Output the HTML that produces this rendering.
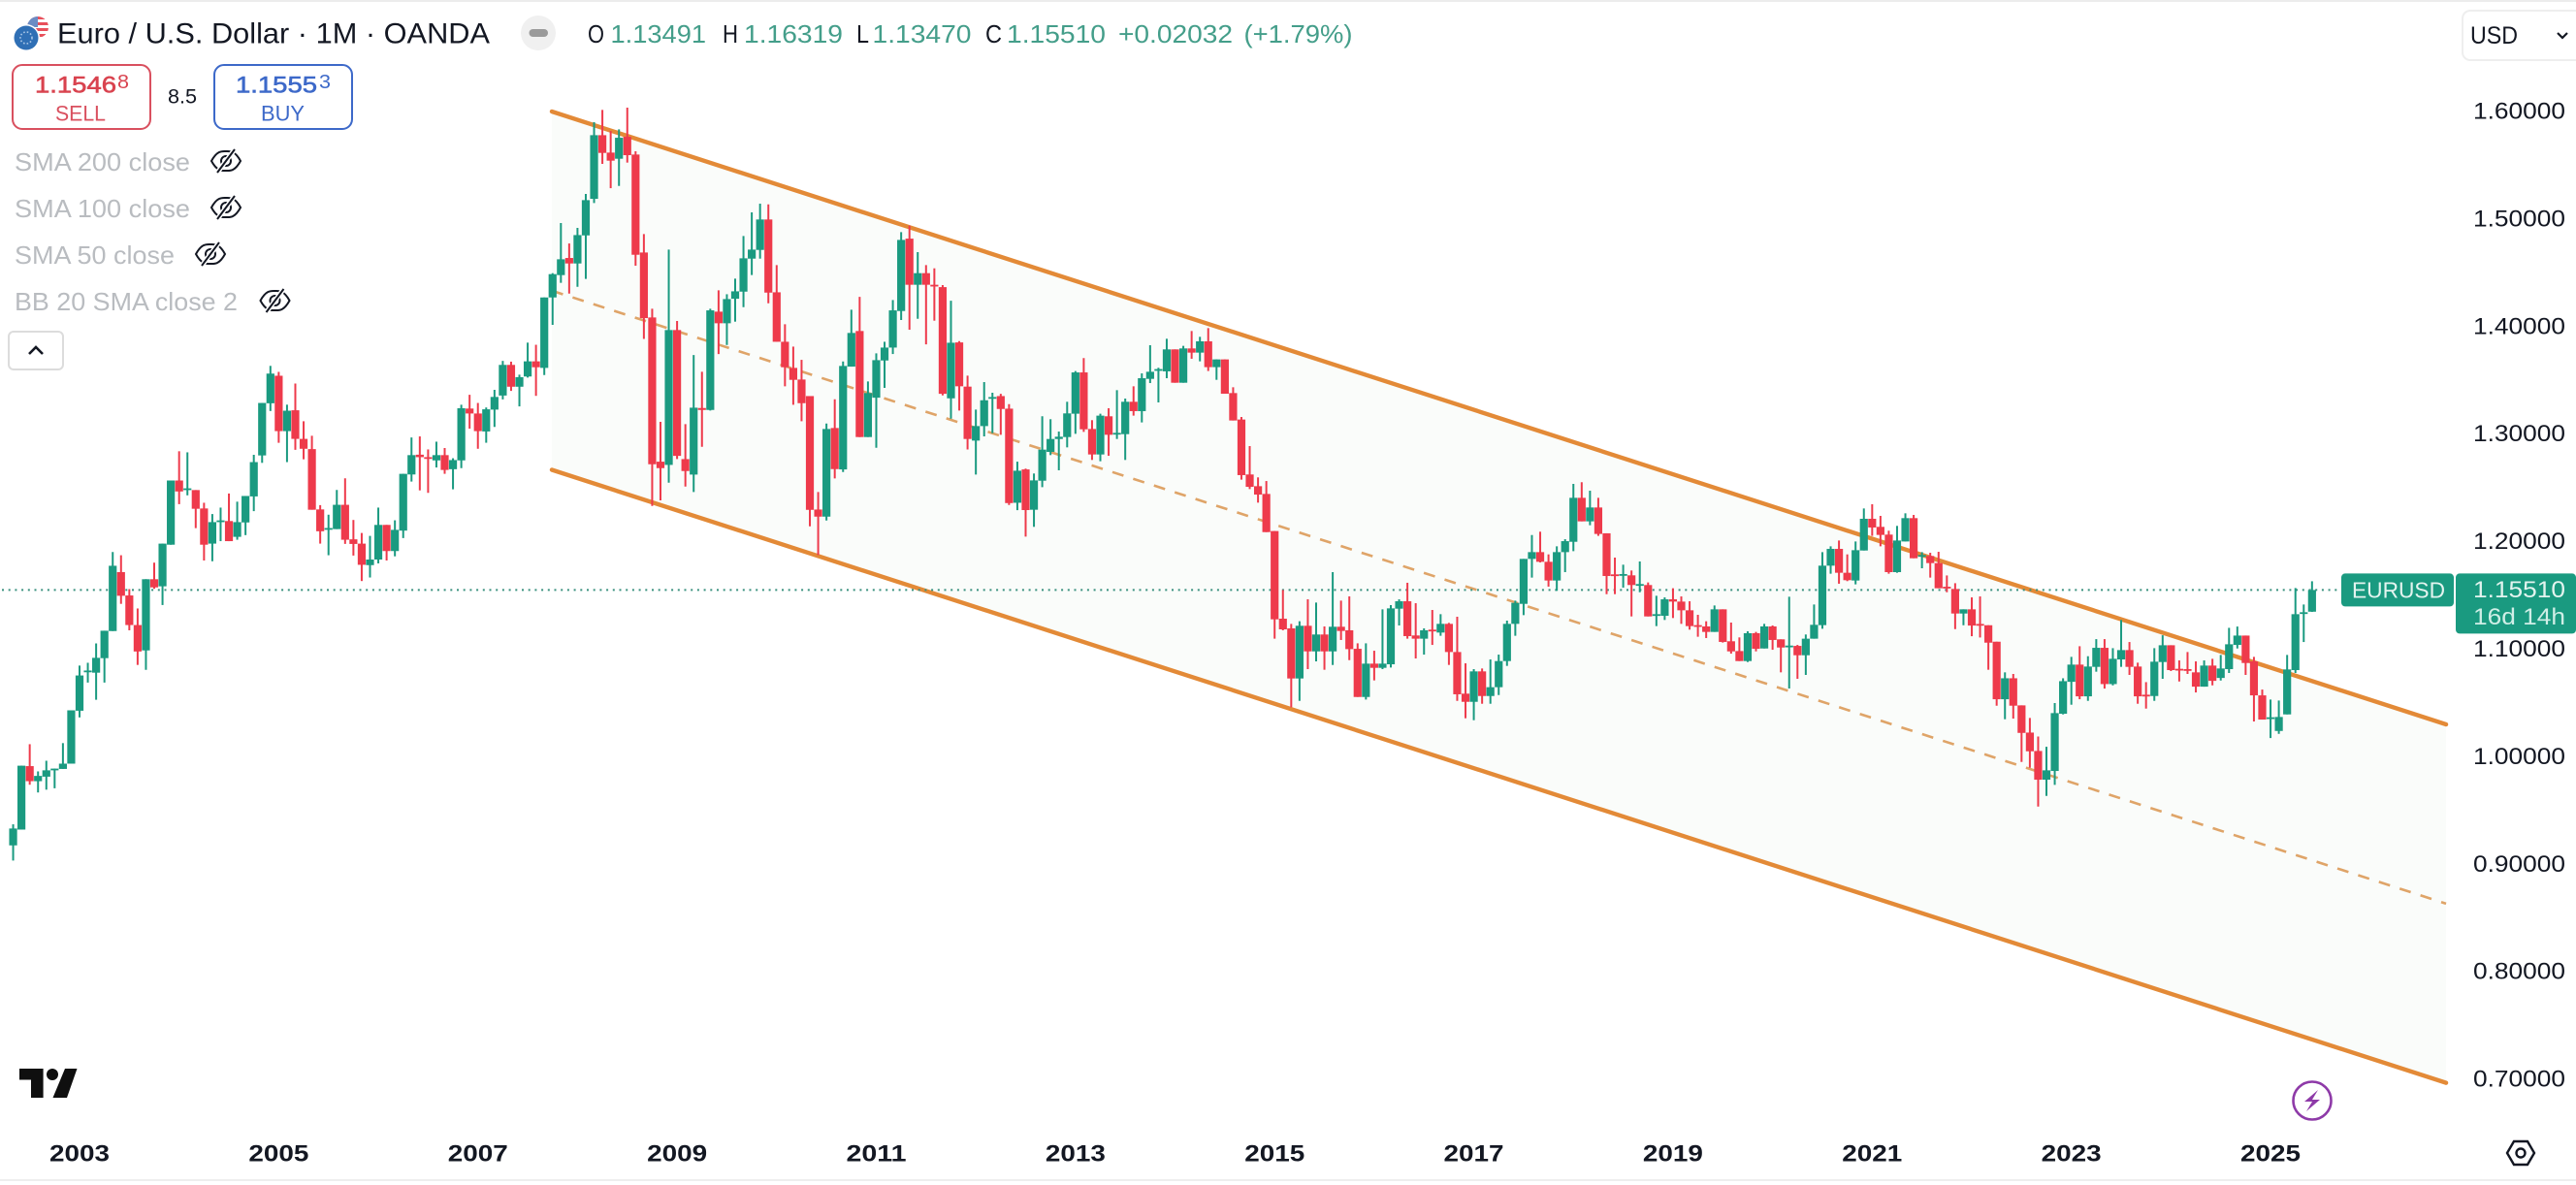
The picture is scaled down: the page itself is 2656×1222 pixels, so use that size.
<!DOCTYPE html>
<html lang="en">
<head>
<meta charset="utf-8">
<title>Euro / U.S. Dollar 1M OANDA chart</title>
<style>
html,body{margin:0;padding:0;background:#fff;width:2656px;height:1222px;overflow:hidden}
svg{display:block;font-family:"Liberation Sans",sans-serif}
text{dominant-baseline:central}
</style>
</head>
<body>
<svg id="chart" xmlns="http://www.w3.org/2000/svg" width="2656" height="1222" viewBox="0 0 2656 1222">
  <defs>
    <clipPath id="flag-clip"><circle cx="39" cy="28" r="11"/></clipPath>
  </defs>
  <rect x="0" y="0" width="2656" height="1222" fill="#ffffff"/>
  <rect x="0" y="0" width="2656" height="2" fill="#ececec"/>
  <rect x="0" y="1216" width="2656" height="2" fill="#eeeeee"/>

  <g id="channel-layer"></g>
  <g id="last-price-layer"></g>
  <g id="candle-layer"></g>
  <g id="price-axis"></g>
  <g id="time-axis"></g>

  <!-- Header -->
  <g>
    <g clip-path="url(#flag-clip)">
      <rect x="28" y="17" width="22" height="22" fill="#ffffff"/>
      <rect x="28" y="17" width="22" height="3" fill="#e8505b"/>
      <rect x="28" y="23" width="22" height="3" fill="#e8505b"/>
      <rect x="28" y="29" width="22" height="3" fill="#e8505b"/>
      <rect x="28" y="35" width="22" height="3" fill="#e8505b"/>
      <rect x="28" y="17" width="11" height="11" fill="#6b8cc4"/>
    </g>
    <circle cx="27" cy="39" r="14" fill="#ffffff"/>
    <circle cx="27" cy="39" r="12.5" fill="#2f6fb5"/>
    <circle cx="27" cy="39" r="6" fill="none" stroke="#a9c6e6" stroke-width="1.6" stroke-dasharray="1.6 2"/>
  </g>
  <text x="59" y="35" font-size="30" fill="#131722" textLength="446" lengthAdjust="spacingAndGlyphs">Euro / U.S. Dollar · 1M · OANDA</text>
  <g>
    <circle cx="555" cy="34" r="18" fill="#f0f0f0"/>
    <rect x="545.5" y="30" width="19.5" height="8" rx="4" fill="#9a9a9a"/>
  </g>
  <g font-size="26">
    <text x="606" y="35" fill="#131722" textLength="17" lengthAdjust="spacingAndGlyphs">O</text>
    <text x="629.5" y="35" fill="#449e8a" textLength="98.5" lengthAdjust="spacingAndGlyphs">1.13491</text>
    <text x="745" y="35" fill="#131722" textLength="16" lengthAdjust="spacingAndGlyphs">H</text>
    <text x="767" y="35" fill="#449e8a" textLength="102" lengthAdjust="spacingAndGlyphs">1.16319</text>
    <text x="883" y="35" fill="#131722" textLength="13" lengthAdjust="spacingAndGlyphs">L</text>
    <text x="899.5" y="35" fill="#449e8a" textLength="102" lengthAdjust="spacingAndGlyphs">1.13470</text>
    <text x="1016" y="35" fill="#131722" textLength="17" lengthAdjust="spacingAndGlyphs">C</text>
    <text x="1038" y="35" fill="#449e8a" textLength="102" lengthAdjust="spacingAndGlyphs">1.15510</text>
    <text x="1153" y="35" fill="#449e8a" textLength="118" lengthAdjust="spacingAndGlyphs">+0.02032</text>
    <text x="1282.5" y="35" fill="#449e8a" textLength="112" lengthAdjust="spacingAndGlyphs">(+1.79%)</text>
  </g>

  <!-- Sell / Buy -->
  <g>
    <rect x="13" y="67" width="142" height="66" rx="10" fill="#ffffff" stroke="#d9505f" stroke-width="2"/>
    <text x="36" y="88" font-size="24" fill="#d9434f" stroke="#d9434f" stroke-width="0.6" textLength="84" lengthAdjust="spacingAndGlyphs">1.1546</text>
    <text x="121" y="85" font-size="20" fill="#d9434f" textLength="12" lengthAdjust="spacingAndGlyphs">8</text>
    <text x="57" y="117" font-size="22" fill="#d9505f" textLength="52" lengthAdjust="spacingAndGlyphs">SELL</text>
  </g>
  <text x="173" y="100" font-size="21" fill="#131722" textLength="30" lengthAdjust="spacingAndGlyphs">8.5</text>
  <g>
    <rect x="221" y="67" width="142" height="66" rx="10" fill="#ffffff" stroke="#3d69c9" stroke-width="2"/>
    <text x="243" y="88" font-size="24" fill="#3d69c9" stroke="#3d69c9" stroke-width="0.6" textLength="84" lengthAdjust="spacingAndGlyphs">1.1555</text>
    <text x="329" y="85" font-size="20" fill="#3d69c9" textLength="12" lengthAdjust="spacingAndGlyphs">3</text>
    <text x="269" y="117" font-size="22" fill="#3d69c9" textLength="45" lengthAdjust="spacingAndGlyphs">BUY</text>
  </g>

  <!-- Indicator legend -->
  <text x="15" y="167" font-size="26" fill="#b9bcc0" textLength="181" lengthAdjust="spacingAndGlyphs">SMA 200 close</text>
  <text x="15" y="215" font-size="26" fill="#b9bcc0" textLength="181" lengthAdjust="spacingAndGlyphs">SMA 100 close</text>
  <text x="15" y="263" font-size="26" fill="#b9bcc0" textLength="165" lengthAdjust="spacingAndGlyphs">SMA 50 close</text>
  <text x="15" y="311" font-size="26" fill="#b9bcc0" textLength="230" lengthAdjust="spacingAndGlyphs">BB 20 SMA close 2</text>
  <g transform="translate(233,166)" fill="none" stroke="#131722" stroke-width="2">
    <path d="M-15 0C-9-11-4-10 0-10C4-10 9-11 15 0C9 11 4 10 0 10C-4 10-9 11-15 0Z"/><circle r="5"/>
    <line x1="-9" y1="12" x2="9" y2="-12" stroke="#fff" stroke-width="5"/><line x1="-9" y1="12" x2="9" y2="-12"/>
  </g>
  <g transform="translate(233,214)" fill="none" stroke="#131722" stroke-width="2">
    <path d="M-15 0C-9-11-4-10 0-10C4-10 9-11 15 0C9 11 4 10 0 10C-4 10-9 11-15 0Z"/><circle r="5"/>
    <line x1="-9" y1="12" x2="9" y2="-12" stroke="#fff" stroke-width="5"/><line x1="-9" y1="12" x2="9" y2="-12"/>
  </g>
  <g transform="translate(217,262)" fill="none" stroke="#131722" stroke-width="2">
    <path d="M-15 0C-9-11-4-10 0-10C4-10 9-11 15 0C9 11 4 10 0 10C-4 10-9 11-15 0Z"/><circle r="5"/>
    <line x1="-9" y1="12" x2="9" y2="-12" stroke="#fff" stroke-width="5"/><line x1="-9" y1="12" x2="9" y2="-12"/>
  </g>
  <g transform="translate(283.5,310)" fill="none" stroke="#131722" stroke-width="2">
    <path d="M-15 0C-9-11-4-10 0-10C4-10 9-11 15 0C9 11 4 10 0 10C-4 10-9 11-15 0Z"/><circle r="5"/>
    <line x1="-9" y1="12" x2="9" y2="-12" stroke="#fff" stroke-width="5"/><line x1="-9" y1="12" x2="9" y2="-12"/>
  </g>
  <g>
    <rect x="9" y="342" width="56" height="39" rx="5" fill="#ffffff" stroke="#dcdcdc" stroke-width="2"/>
    <path d="M30 365L37 358L44 365" fill="none" stroke="#131722" stroke-width="2.6"/>
  </g>

  <!-- Currency selector -->
  <g>
    <rect x="2539" y="11" width="125" height="51" rx="8" fill="#ffffff" stroke="#eeeeee" stroke-width="2"/>
    <text x="2547" y="37" font-size="25" fill="#131722" textLength="49" lengthAdjust="spacingAndGlyphs">USD</text>
    <path d="M2637 34L2642 39L2647 34" fill="none" stroke="#131722" stroke-width="2.2"/>
  </g>

  <!-- Logo and bottom controls -->
  <g fill="#0f0f0f">
    <polygon points="20,1102 44.6,1102 44.6,1132 32,1132 32,1113.5 20,1113.5"/>
    <ellipse cx="54" cy="1108" rx="6" ry="6"/>
    <polygon points="67,1102 79.5,1102 69,1132 54.5,1132"/>
  </g>
  <g>
    <circle cx="2384" cy="1135" r="19.5" fill="#ffffff" stroke="#8e3aa8" stroke-width="2.6"/>
    <polygon points="2390,1124 2376,1136 2384,1136 2378,1146 2392,1134 2384,1134" fill="#8e3aa8"/>
  </g>
  <g fill="none" stroke="#131722" stroke-width="2.4">
    <polygon points="2585,1189 2592,1177 2606,1177 2613,1189 2606,1201 2592,1201"/>
    <circle cx="2599" cy="1189" r="4.5"/>
  </g>
</svg>

<script>
const startYear = 2002;
const startMonth = 4;
const opens = [
.9176,.9323,.9913,.9773,.9815,.9874,.9887,.9936,1.0428,1.0789,
1.0782,1.0917,1.1169,1.1717,1.1500,1.1225,1.0989,1.1651,1.1585,1.1972,
1.2569,1.2487,1.2480,1.2309,1.1982,1.2192,1.2192,1.2045,1.2179,1.2421,
1.2802,1.3287,1.3543,1.3028,1.3222,1.2956,1.2861,1.2300,1.2120,1.2117,
1.2343,1.2022,1.1982,1.1782,1.1834,1.2156,1.1913,1.2103,1.2625,1.2809,
1.2786,1.2756,1.2805,1.2674,1.2756,1.3238,1.3192,1.3025,1.3228,1.3359,
1.3644,1.3441,1.3536,1.3677,1.3616,1.4271,1.4479,1.4638,1.4587,1.4848,
1.5188,1.5780,1.5618,1.5561,1.5765,1.5600,1.4689,1.4085,1.2744,1.2714,
1.3968,1.2768,1.2624,1.3243,1.3225,1.4139,1.4031,1.4259,1.4325,1.4632,
1.4713,1.4996,1.4319,1.3859,1.3616,1.3508,1.3354,1.2299,1.2233,1.3057,
1.2672,1.3628,1.3959,1.2973,1.3339,1.3685,1.3805,1.4145,1.4818,1.4389,
1.4497,1.4389,1.4367,1.3333,1.3853,1.3442,1.2940,1.3075,1.3333,1.3354,
1.3237,1.2362,1.2672,1.2297,1.2567,1.2835,1.2955,1.2973,1.3190,1.3574,
1.3048,1.2811,1.3166,1.3003,1.3000,1.3301,1.3214,1.3514,1.3593,1.3584,
1.3788,1.3478,1.3797,1.3758,1.3863,1.3623,1.3695,1.3382,1.3136,1.2625,
1.2516,1.2444,1.2099,1.1284,1.1194,1.0728,1.1218,1.0980,1.1137,1.0980,
1.1209,1.1176,1.1004,1.0556,1.0866,1.0827,1.0860,1.1377,1.1446,1.1128,
1.1098,1.1182,1.1155,1.1236,1.0974,1.0587,1.0511,1.0794,1.0565,1.0647,
1.0890,1.1236,1.1422,1.1840,1.1903,1.1813,1.1639,1.1903,1.1999,1.2408,
1.2189,1.2318,1.2078,1.1696,1.1687,1.1687,1.1597,1.1597,1.1314,1.1311,
1.1464,1.1443,1.1362,1.1224,1.1212,1.1161,1.1371,1.1074,1.0983,1.0890,
1.1149,1.1007,1.1212,1.1092,1.1025,1.1031,1.0944,1.1098,1.1224,1.1777,
1.1933,1.1711,1.1639,1.1918,1.2213,1.2138,1.2066,1.1717,1.2002,1.2219,
1.1861,1.1867,1.1801,1.1581,1.1560,1.1332,1.1371,1.1235,1.1223,1.1070,
1.0535,1.0730,1.0478,1.0225,1.0054,.9787,.9868,1.0400,1.0697,1.0857,
1.0562,1.0836,1.1013,1.0676,1.0905,1.0992,1.0839,1.0577,1.0565,1.0881,
1.1037,1.0818,1.0815,1.0785,1.0652,1.0848,1.0733,1.0815,1.1040,1.1127,
1.0887,1.0571,1.0358,1.0240,1.0394,1.0806,1.1329,1.1349];
const highs = [
.9372,.9917,1.0117,.9864,.9963,.9890,1.0127,1.0432,1.0848,1.0874,
1.1054,1.1172,1.1904,1.1874,1.1559,1.1379,1.1651,1.1805,1.1982,1.2569,
1.2841,1.2831,1.2480,1.2362,1.2257,1.2317,1.2448,1.2372,1.2425,1.2808,
1.3290,1.3635,1.3579,1.3274,1.3471,1.3120,1.2985,1.2340,1.2251,1.2481,
1.2589,1.2202,1.2081,1.2054,1.2317,1.2156,1.2199,1.2631,1.2969,1.2979,
1.2858,1.2930,1.2871,1.2776,1.3274,1.3366,1.3290,1.3248,1.3412,1.3681,
1.3674,1.3553,1.3851,1.3831,1.4271,1.4497,1.4963,1.4773,1.4918,1.5233,
1.5901,1.6015,1.5819,1.5834,1.6036,1.5630,1.4860,1.4166,1.3114,1.4716,
1.4052,1.3093,1.3736,1.3580,1.4166,1.4337,1.4301,1.4446,1.4842,1.5062,
1.5143,1.5137,1.4572,1.4022,1.3814,1.3691,1.3354,1.2462,1.3099,1.3324,
1.3676,1.4157,1.4277,1.3490,1.3751,1.3859,1.4247,1.4878,1.4939,1.4692,
1.4572,1.4542,1.4386,1.4241,1.3865,1.3544,1.3228,1.3484,1.3385,1.3375,
1.3279,1.2744,1.2679,1.2634,1.3166,1.3139,1.3024,1.3301,1.3587,1.3707,
1.3130,1.3190,1.3241,1.3409,1.3331,1.3445,1.3565,1.3827,1.3617,1.3887,
1.3788,1.3821,1.3959,1.3905,1.3986,1.3695,1.3695,1.3436,1.3160,1.2889,
1.2598,1.2564,1.2099,1.1551,1.1236,1.1260,1.1464,1.1434,1.1212,1.1717,
1.1452,1.1491,1.1055,1.1055,1.0986,1.1371,1.1410,1.1464,1.1618,1.1428,
1.1194,1.1365,1.1326,1.1245,1.1302,1.0869,1.0815,1.0821,1.0905,1.0950,
1.1266,1.1452,1.1840,1.2062,1.2093,1.1882,1.1957,1.2023,1.2537,1.2553,
1.2474,1.2408,1.2078,1.1852,1.1786,1.1732,1.1816,1.1621,1.1497,1.1482,
1.1567,1.1491,1.1446,1.1320,1.1260,1.1407,1.1371,1.1248,1.1110,1.1167,
1.1161,1.1236,1.1221,1.1092,1.1488,1.1040,1.1137,1.1416,1.1903,1.1957,
1.2011,1.1882,1.2002,1.2309,1.2348,1.2240,1.2102,1.2147,1.2264,1.2249,
1.1903,1.1897,1.1906,1.1686,1.1614,1.1371,1.1482,1.1491,1.1223,1.1070,
1.0785,1.0770,1.0478,1.0361,1.0189,1.0093,1.0499,1.0730,1.0929,1.1028,
1.0935,1.1094,1.1094,1.1010,1.1272,1.1067,1.0875,1.0694,1.1010,1.1130,
1.1037,1.0896,1.0974,1.0887,1.0896,1.0911,1.0947,1.1199,1.1211,1.1127,
1.0929,1.0625,1.0532,1.0523,1.0947,1.1569,1.1416,1.1632];
const lows = [
.9035,.9323,.9740,.9668,.9694,.9707,.9887,.9936,1.0366,1.0690,
1.0530,1.0690,1.1169,1.1422,1.1176,1.0854,1.0808,1.1562,1.1411,1.1972,
1.2349,1.2431,1.2126,1.1825,1.1818,1.2005,1.2005,1.2018,1.2061,1.2284,
1.2733,1.3215,1.2920,1.2740,1.2854,1.2766,1.2297,1.1982,1.1874,1.2117,
1.1979,1.1871,1.1634,1.1667,1.1798,1.1825,1.1864,1.2034,1.2559,1.2477,
1.2454,1.2690,1.2631,1.2487,1.2684,1.3051,1.2864,1.2920,1.3067,1.3323,
1.3402,1.3258,1.3526,1.3356,1.3550,1.4016,1.4407,1.4307,1.4370,1.4443,
1.5149,1.5513,1.5287,1.5308,1.5525,1.4566,1.3886,1.2332,1.2384,1.2549,
1.2768,1.2513,1.2462,1.2882,1.3219,1.3745,1.3829,1.4046,1.4181,1.4479,
1.4632,1.4217,1.3859,1.3445,1.3273,1.3120,1.2143,1.1876,1.2197,1.2588,
1.2648,1.3628,1.2973,1.2973,1.2873,1.3430,1.3745,1.4061,1.3971,1.4073,
1.3835,1.4055,1.3360,1.3144,1.3219,1.2858,1.2624,1.2979,1.3009,1.2994,
1.2341,1.2293,1.2047,1.2138,1.2507,1.2805,1.2664,1.2877,1.3003,1.3021,
1.2760,1.2748,1.2799,1.2955,1.2760,1.3172,1.3109,1.3475,1.3295,1.3520,
1.3478,1.3478,1.3701,1.3677,1.3587,1.3505,1.3376,1.3127,1.2577,1.2489,
1.2363,1.2089,1.1098,1.1176,1.0460,1.0520,1.0815,1.0887,1.0809,1.0854,
1.1086,1.0899,1.0556,1.0532,1.0710,1.0815,1.0830,1.1221,1.1098,1.0914,
1.0950,1.1040,1.1125,1.0854,1.0520,1.0358,1.0340,1.0493,1.0493,1.0574,
1.0845,1.1125,1.1317,1.1666,1.1807,1.1582,1.1543,1.1717,1.1912,1.2189,
1.2153,1.2054,1.1512,1.1512,1.1573,1.1305,1.1530,1.1305,1.1215,1.1272,
1.1290,1.1236,1.1182,1.1116,1.1104,1.1161,1.1062,1.0959,1.0890,1.0881,
1.0980,1.1007,1.0995,1.0785,1.0635,1.0725,1.0761,1.1098,1.1191,1.1702,
1.1609,1.1633,1.1603,1.1918,1.2054,1.1957,1.1702,1.1711,1.2002,1.1846,
1.1753,1.1666,1.1567,1.1530,1.1187,1.1223,1.1121,1.1109,1.0809,1.0475,
1.0349,1.0355,.9952,.9898,.9537,.9636,.9739,1.0394,1.0484,1.0535,
1.0520,1.0791,1.0634,1.0664,1.0836,1.0761,1.0493,1.0448,1.0520,1.0725,
1.0797,1.0700,1.0770,1.0598,1.0652,1.0664,1.0709,1.0779,1.1007,1.0761,
1.0328,1.0346,1.0174,1.0213,1.0394,1.0779,1.1067,1.1347];
const closes = [
.9333,.9917,.9773,.9822,.9874,.9890,.9936,1.0432,1.0756,1.0802,
1.0920,1.1172,1.1776,1.1497,1.1225,1.0979,1.1651,1.1575,1.1982,1.2569,
1.2467,1.2496,1.2306,1.1972,1.2182,1.2198,1.2005,1.2182,1.2425,1.2740,
1.3290,1.3563,1.3028,1.3218,1.2956,1.2864,1.2297,1.2097,1.2127,1.2343,
1.2018,1.1979,1.1785,1.1834,1.2156,1.1913,1.2110,1.2631,1.2805,1.2786,
1.2776,1.2805,1.2667,1.2759,1.3241,1.3192,1.3028,1.3231,1.3346,1.3644,
1.3441,1.3530,1.3677,1.3622,1.4271,1.4488,1.4626,1.4587,1.4851,1.5176,
1.5780,1.5615,1.5543,1.5756,1.5594,1.4668,1.4079,1.2720,1.2684,1.3968,
1.2798,1.2657,1.3246,1.3225,1.4151,1.4031,1.4256,1.4328,1.4635,1.4716,
1.4996,1.4316,1.3859,1.3622,1.3505,1.3288,1.2296,1.2233,1.3048,1.2675,
1.3634,1.3941,1.2973,1.3382,1.3688,1.3805,1.4151,1.4806,1.4389,1.4497,
1.4389,1.4376,1.3375,1.3850,1.3445,1.2955,1.3075,1.3315,1.3345,1.3234,
1.2359,1.2660,1.2294,1.2570,1.2856,1.2955,1.2976,1.3193,1.3574,1.3045,
1.2811,1.3172,1.2994,1.3012,1.3301,1.3214,1.3520,1.3580,1.3605,1.3788,
1.3478,1.3797,1.3758,1.3863,1.3623,1.3695,1.3376,1.3127,1.2619,1.2510,
1.2438,1.2089,1.1278,1.1185,1.0728,1.1218,1.0980,1.1137,1.0980,1.1209,
1.1170,1.1001,1.0556,1.0866,1.0827,1.0866,1.1380,1.1446,1.1122,1.1098,
1.1176,1.1173,1.1236,1.0974,1.0581,1.0511,1.0794,1.0565,1.0647,1.0890,
1.1236,1.1431,1.1840,1.1903,1.1813,1.1639,1.1903,1.2005,1.2408,1.2189,
1.2318,1.2072,1.1681,1.1687,1.1699,1.1597,1.1606,1.1305,1.1326,1.1464,
1.1443,1.1362,1.1215,1.1218,1.1161,1.1371,1.1068,1.0980,1.0890,1.1149,
1.1004,1.1212,1.1086,1.1016,1.1034,1.0944,1.1098,1.1227,1.1777,1.1933,
1.1711,1.1642,1.1921,1.2213,1.2132,1.2063,1.1717,1.2011,1.2219,1.1846,
1.1876,1.1801,1.1567,1.1569,1.1332,1.1371,1.1220,1.1226,1.1061,1.0535,
1.0730,1.0475,1.0222,1.0051,.9787,.9874,1.0406,1.0703,1.0857,1.0562,
1.0839,1.1013,1.0676,1.0911,1.0992,1.0836,1.0562,1.0568,1.0884,1.1037,
1.0806,1.0809,1.0806,1.0652,1.0848,1.0706,1.0821,1.1046,1.1127,1.0872,
1.0571,1.0346,1.0367,1.0370,1.0812,1.1326,1.1344,1.1551];
const priceTicks = [1.6, 1.5, 1.4, 1.3, 1.2, 1.1, 1.0, 0.9, 0.8, 0.7];
const yearLabels = [2003, 2005, 2007, 2009, 2011, 2013, 2015, 2017, 2019, 2021, 2023, 2025];
const channelIndex = [64.91, 293.15];
const channelUpper = [1.6, 1.0301];
const channelLower = [1.2668, 0.6968];
const lastPrice = 1.1551;
const lastPriceText = "1.15510";
const countdownText = "16d 14h";
const symbolLabel = "EURUSD";

const SVG_NS = "http://www.w3.org/2000/svg";
const GREEN = "#1a9a80";
const RED = "#ee3a4b";
const ORANGE = "#e38a37";

function priceY(p) { return 115 + (1.6 - p) * 1109; }
function indexX(i) { return 82 + (i - 8) * 8.557; }
function yearIndex(year) { return (year - startYear) * 12 - startMonth; }
function make(tag, parent) {
  const el = document.createElementNS(SVG_NS, tag);
  parent.appendChild(el);
  return el;
}

const channelLayer = document.getElementById("channel-layer");
const x0 = indexX(channelIndex[0]);
const x1 = indexX(channelIndex[1]);
const upY0 = priceY(channelUpper[0]);
const upY1 = priceY(channelUpper[1]);
const loY0 = priceY(channelLower[0]);
const loY1 = priceY(channelLower[1]);

const channelFill = make("polygon", channelLayer);


channelFill.setAttribute("points", x0 + "," + upY0 + " " + x1 + "," + upY1 + " " + x1 + "," + loY1 + " " + x0 + "," + loY0);
channelFill.setAttribute("fill", "#fafcfa");

const lastLayer = document.getElementById("last-price-layer");
const lastY = priceY(lastPrice);
const lastLine = make("line", lastLayer);


lastLine.setAttribute("x1", 2);
lastLine.setAttribute("x2", 2412);
lastLine.setAttribute("y1", lastY);
lastLine.setAttribute("y2", lastY);
lastLine.setAttribute("stroke", "#3a917f");
lastLine.setAttribute("stroke-width", 2);
lastLine.setAttribute("stroke-dasharray", "2 4.7");

const midLine = make("line", channelLayer);


midLine.setAttribute("x1", x0);
midLine.setAttribute("x2", x1);
midLine.setAttribute("y1", (upY0 + loY0) / 2);
midLine.setAttribute("y2", (upY1 + loY1) / 2);
midLine.setAttribute("stroke", "#dfa468");
midLine.setAttribute("stroke-width", 2.6);
midLine.setAttribute("stroke-dasharray", "12 10.5");

const upperLine = make("line", channelLayer);


upperLine.setAttribute("x1", x0);
upperLine.setAttribute("x2", x1);
upperLine.setAttribute("y1", upY0);
upperLine.setAttribute("y2", upY1);
upperLine.setAttribute("stroke", ORANGE);
upperLine.setAttribute("stroke-width", 4.4);
upperLine.setAttribute("stroke-linecap", "round");

const lowerLine = make("line", channelLayer);


lowerLine.setAttribute("x1", x0);
lowerLine.setAttribute("x2", x1);
lowerLine.setAttribute("y1", loY0);
lowerLine.setAttribute("y2", loY1);
lowerLine.setAttribute("stroke", ORANGE);
lowerLine.setAttribute("stroke-width", 4.4);
lowerLine.setAttribute("stroke-linecap", "round");

const candleLayer = document.getElementById("candle-layer");
closes.forEach(function (close, i) {
  const open = opens[i];
  const color = close >= open ? GREEN : RED;
  const x = indexX(i);
  const top = priceY(Math.max(open, close));
  const bottom = priceY(Math.min(open, close));

  const wick = make("line", candleLayer);
  
  
  wick.setAttribute("x1", x);
  wick.setAttribute("x2", x);
  wick.setAttribute("y1", priceY(highs[i]));
  wick.setAttribute("y2", priceY(lows[i]));
  wick.setAttribute("stroke", color);
  wick.setAttribute("stroke-width", 2);

  const body = make("rect", candleLayer);
  
  
  body.setAttribute("x", x - 4.1);
  body.setAttribute("y", top);
  body.setAttribute("width", 8.2);
  body.setAttribute("height", Math.max(bottom - top, 1.8));
  body.setAttribute("fill", color);
});

const priceAxis = document.getElementById("price-axis");
priceTicks.forEach(function (tick) {
  const label = make("text", priceAxis);
  
  
  label.setAttribute("x", 2550);
  label.setAttribute("y", priceY(tick));
  label.setAttribute("font-size", 24);
  label.setAttribute("fill", "#131722");
  label.setAttribute("textLength", 95);
  label.setAttribute("lengthAdjust", "spacingAndGlyphs");
  label.textContent = tick.toFixed(5);
});

const namePill = make("rect", lastLayer);


namePill.setAttribute("x", 2414);
namePill.setAttribute("y", lastY - 17);
namePill.setAttribute("width", 116);
namePill.setAttribute("height", 34);
namePill.setAttribute("rx", 4);
namePill.setAttribute("fill", GREEN);

const nameText = make("text", lastLayer);


nameText.setAttribute("x", 2425);
nameText.setAttribute("y", lastY);
nameText.setAttribute("font-size", 23);
nameText.setAttribute("fill", "#e3f4ef");
nameText.setAttribute("textLength", 96);
nameText.setAttribute("lengthAdjust", "spacingAndGlyphs");
nameText.textContent = symbolLabel;

const priceBox = make("rect", lastLayer);


priceBox.setAttribute("x", 2532);
priceBox.setAttribute("y", lastY - 17);
priceBox.setAttribute("width", 124);
priceBox.setAttribute("height", 62);
priceBox.setAttribute("rx", 4);
priceBox.setAttribute("fill", GREEN);

const priceText = make("text", lastLayer);


priceText.setAttribute("x", 2550);
priceText.setAttribute("y", lastY);
priceText.setAttribute("font-size", 24);
priceText.setAttribute("fill", "#e3f4ef");
priceText.setAttribute("textLength", 95);
priceText.setAttribute("lengthAdjust", "spacingAndGlyphs");
priceText.textContent = lastPriceText;

const countText = make("text", lastLayer);


countText.setAttribute("x", 2550);
countText.setAttribute("y", lastY + 28);
countText.setAttribute("font-size", 24);
countText.setAttribute("fill", "#cfeee6");
countText.setAttribute("textLength", 95);
countText.setAttribute("lengthAdjust", "spacingAndGlyphs");
countText.textContent = countdownText;

const timeAxis = document.getElementById("time-axis");
yearLabels.forEach(function (year) {
  const label = make("text", timeAxis);
  
  
  label.setAttribute("x", indexX(yearIndex(year)) - 31);
  label.setAttribute("y", 1190);
  label.setAttribute("font-size", 24);
  label.setAttribute("font-weight", "bold");
  label.setAttribute("fill", "#131722");
  label.setAttribute("textLength", 62);
  label.setAttribute("lengthAdjust", "spacingAndGlyphs");
  label.textContent = String(year);
});
</script>
</body>
</html>
